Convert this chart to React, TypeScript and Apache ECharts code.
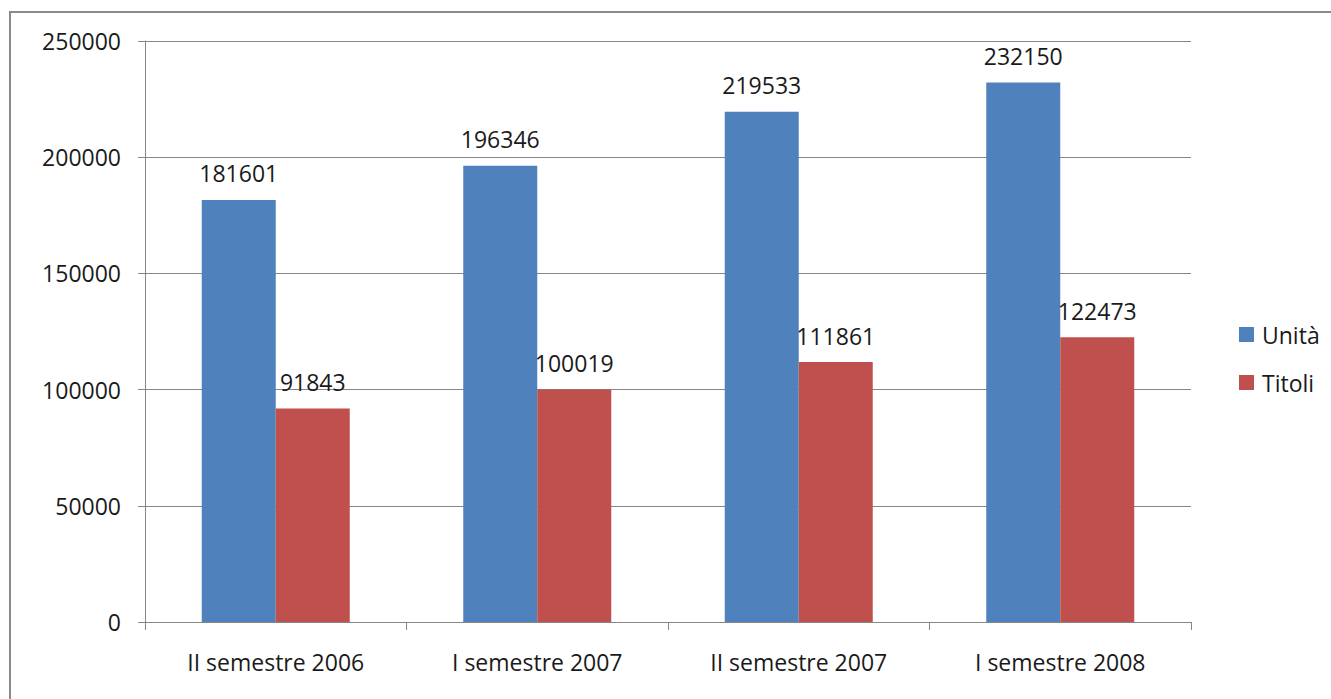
import React, { useEffect, useRef } from "react";
import * as echarts from "echarts";

const categories = ["II semestre 2006", "I semestre 2007", "II semestre 2007", "I semestre 2008"];
const unita = [181601, 196346, 219533, 232150];
const titoli = [91843, 100019, 111861, 122473];
const seriesNames = ["Unità", "Titoli"];

const FONT = "'Open Sans', 'Liberation Sans', sans-serif";

export default function App() {
  const ref = useRef<HTMLDivElement>(null);
  useEffect(() => {
    document.body.style.margin = "0";
    const chart = echarts.init(ref.current!, null, { renderer: "svg" });
    const labelStyle = {
      show: true,
      position: "top" as const,
      distance: 15,
      color: "#1a1a1a",
      fontSize: 23,
      fontFamily: FONT,
      formatter: (p: any) => String(p.value),
    };
    chart.setOption({
      animation: false,
      backgroundColor: "#fff",
      textStyle: { fontFamily: FONT },
      graphic: [
        {
          type: "rect",
          shape: { x: 10, y: 12, width: 1400, height: 800 },
          style: { fill: "none", stroke: "#8a8a8a", lineWidth: 2 },
          silent: true,
        },
      ],
      grid: { left: 145, right: 140, top: 41, bottom: 77, containLabel: false },
      legend: {
        orient: "vertical",
        left: 1234,
        top: 318,
        itemWidth: 15,
        itemHeight: 15,
        itemGap: 25,
        icon: "rect",
        data: seriesNames,
        textStyle: { fontSize: 23, color: "#1a1a1a", fontFamily: FONT, padding: [0, 0, 0, 3] },
      },
      xAxis: {
        type: "category",
        data: categories,
        axisLine: { lineStyle: { color: "#868686", width: 1 } },
        axisTick: { show: true, length: 8, lineStyle: { color: "#868686" } },
        axisLabel: { color: "#1a1a1a", fontSize: 23, fontFamily: FONT, margin: 28 },
      },
      yAxis: {
        type: "value",
        min: 0,
        max: 250000,
        interval: 50000,
        axisLine: { show: true, lineStyle: { color: "#868686", width: 1 } },
        axisTick: { show: true, length: 7, lineStyle: { color: "#868686" } },
        splitLine: { lineStyle: { color: "#868686", width: 1 } },
        axisLabel: {
          color: "#1a1a1a",
          fontSize: 23,
          fontFamily: FONT,
          margin: 24,
          formatter: (v: number) => String(v),
        },
      },
      series: [
        {
          name: seriesNames[0],
          type: "bar",
          data: unita,
          barWidth: 74,
          barGap: "0%",
          itemStyle: { color: "#4F81BD" },
          label: labelStyle,
        },
        {
          name: seriesNames[1],
          type: "bar",
          data: titoli,
          barWidth: 74,
          barGap: "0%",
          itemStyle: { color: "#C0504D" },
          label: labelStyle,
        },
      ],
    });
    return () => chart.dispose();
  }, []);
  return <div ref={ref} style={{ width: 1331, height: 699 }} />;
}
